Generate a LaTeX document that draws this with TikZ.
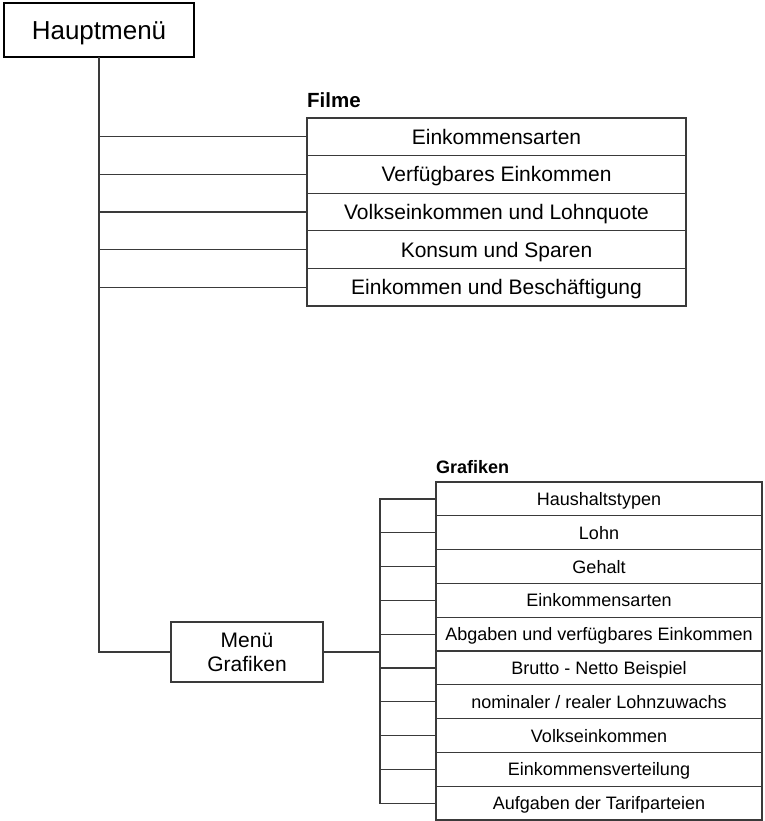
\documentclass[tikz,border=0pt]{standalone}
\usepackage{fontspec}
\setmainfont{Liberation Sans}
\definecolor{ln}{HTML}{3A3A3A}
\begin{document}
\begin{tikzpicture}[x=1pt,y=-1pt,
  conn/.style={draw=ln,line width=1.2pt},
  rowF/.style={draw=ln,line width=1.2pt,minimum width=379pt,minimum height=37.6pt,inner sep=0pt,outer sep=0pt,anchor=north west,text height=15pt,text depth=0pt,font=\fontsize{21}{24}\selectfont},
  rowG/.style={draw=ln,line width=1.2pt,minimum width=326pt,minimum height=33.8pt,inner sep=0pt,outer sep=0pt,anchor=north west,text height=13pt,text depth=0pt,font=\fontsize{18}{21}\selectfont},
  lab/.style={anchor=west,inner sep=0pt,font=\bfseries\fontsize{#1}{#1}\selectfont}
]
\useasboundingbox (0,0) rectangle (764,821);
\node[draw=black,line width=2.5pt,minimum width=190pt,minimum height=54pt,inner sep=0pt,outer sep=0pt,text height=19pt,text depth=0pt,font=\fontsize{26}{30}\selectfont] (hm) at (99,30) {Hauptmenü};

\node[lab=20.5] (filme) at (307,100) {Filme};
\node[rowF] (f1) at (307,118) {Einkommensarten};
\node[rowF] (f2) at (307,155.6) {Verfügbares Einkommen};
\node[rowF] (f3) at (307,193.2) {Volkseinkommen und Lohnquote};
\node[rowF] (f4) at (307,230.8) {Konsum und Sparen};
\node[rowF] (f5) at (307,268.4) {Einkommen und Beschäftigung};

\node[draw=ln,line width=1.5pt,minimum width=152pt,minimum height=60pt,inner sep=0pt,outer sep=0pt,align=center,font=\fontsize{21}{24}\selectfont] (mg) at (247,652) {Menü\\Grafiken};

\node[lab=18] (graf) at (436,467) {Grafiken};
\node[rowG] (g1) at (436,482) {Haushaltstypen};
\node[rowG] (g2) at (436,515.8) {Lohn};
\node[rowG] (g3) at (436,549.6) {Gehalt};
\node[rowG] (g4) at (436,583.4) {Einkommensarten};
\node[rowG] (g5) at (436,617.2) {Abgaben und verfügbares Einkommen};
\node[rowG] (g6) at (436,651) {Brutto - Netto Beispiel};
\node[rowG] (g7) at (436,684.8) {nominaler / realer Lohnzuwachs};
\node[rowG] (g8) at (436,718.6) {Volkseinkommen};
\node[rowG] (g9) at (436,752.4) {Einkommensverteilung};
\node[rowG] (g10) at (436,786.2) {Aufgaben der Tarifparteien};

% main trunk
\draw[draw=ln,line width=2pt] (hm.south) -- (hm.south |- f1.west);
\foreach \i in {1,...,5}{\draw[conn] (hm.south) |- (f\i.west);}
\draw[conn] (hm.south) |- (mg.west);

% Grafiken trunk
\coordinate (gbus) at (380,652);
\draw[draw=ln,line width=2pt] (mg.east) -- (gbus);
\foreach \i in {1,...,10}{\draw[conn] (gbus) |- (g\i.west);}
\end{tikzpicture}
\end{document}
